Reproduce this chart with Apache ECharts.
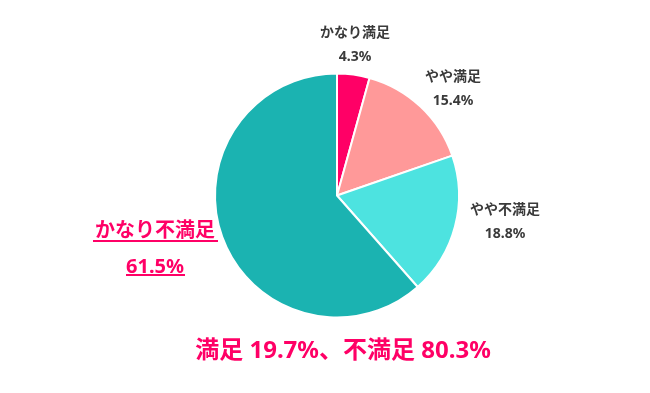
<!DOCTYPE html>
<html>
<head>
<meta charset="utf-8">
<script src="https://cdn.jsdelivr.net/npm/echarts@6/dist/echarts.min.js"></script>
<style>html,body{margin:0;padding:0;background:#fff;}#c{width:650px;height:393px;}</style>
</head>
<body>
<div id="c"></div>
<script>
var categories = ['かなり満足', 'やや満足', 'やや不満足', 'かなり不満足'];
var values = [4.3, 15.4, 18.8, 61.5];
var colors = ['#ff0066', '#ff9999', '#4de3e0', '#1bb3b1'];
var summaryText = '満足 19.7%、不満足 80.3%';

var labelPos = [[355, 45], [453, 89], [505, 222], [155, 249]];
var FONT = '"Noto Sans", "Noto Sans CJK JP", sans-serif';

var chart = echarts.init(document.getElementById('c'));
var data = categories.map(function (c, i) {
  var d = { name: c, value: values[i], itemStyle: { color: colors[i] } };
  if (i === 3) {
    d.label = { formatter: function (p) { return '{bn|' + p.name + '}\n{bv|' + p.value.toFixed(1) + '%}'; } };
  }
  return d;
});
chart.setOption({
  animation: false,
  series: [{
    type: 'pie',
    center: [337, 195.5],
    radius: [0, 122],
    startAngle: 90,
    clockwise: true,
    itemStyle: { borderColor: '#fff', borderWidth: 2 },
    labelLine: { show: false },
    label: {
      show: true,
      position: 'outside',
      fontFamily: FONT,
      formatter: function (p) { return '{n|' + p.name + '}\n{v|' + p.value.toFixed(1) + '%}'; },
      rich: {
        n: { fontFamily: FONT, fontSize: 14, fontWeight: 'bold', color: '#3a3a3a', lineHeight: 24, align: 'center' },
        v: { fontFamily: FONT, fontSize: 14, fontWeight: 'bold', color: '#3a3a3a', lineHeight: 24, align: 'center' },
        bn: { fontFamily: FONT, fontSize: 20, fontWeight: 'bold', color: '#ff0066', lineHeight: 36, align: 'center' },
        bv: { fontFamily: FONT, fontSize: 20, fontWeight: 'bold', color: '#ff0066', lineHeight: 36, align: 'center' }
      }
    },
    labelLayout: function (params) {
      var p = labelPos[params.dataIndex];
      return { x: p[0], y: p[1], align: 'center', verticalAlign: 'middle' };
    },
    data: data
  }],
  graphic: [
    { type: 'text', x: 343, y: 351, style: { text: summaryText, textAlign: 'center', textVerticalAlign: 'middle', fontFamily: FONT, fontSize: 24, fontWeight: 'bold', fill: '#ff0066' } },
    { type: 'line', shape: { x1: 93, y1: 241, x2: 218, y2: 241 }, style: { stroke: '#ff0066', lineWidth: 2 } },
    { type: 'line', shape: { x1: 126, y1: 275, x2: 185, y2: 275 }, style: { stroke: '#ff0066', lineWidth: 2 } }
  ]
});
</script>
</body>
</html>
